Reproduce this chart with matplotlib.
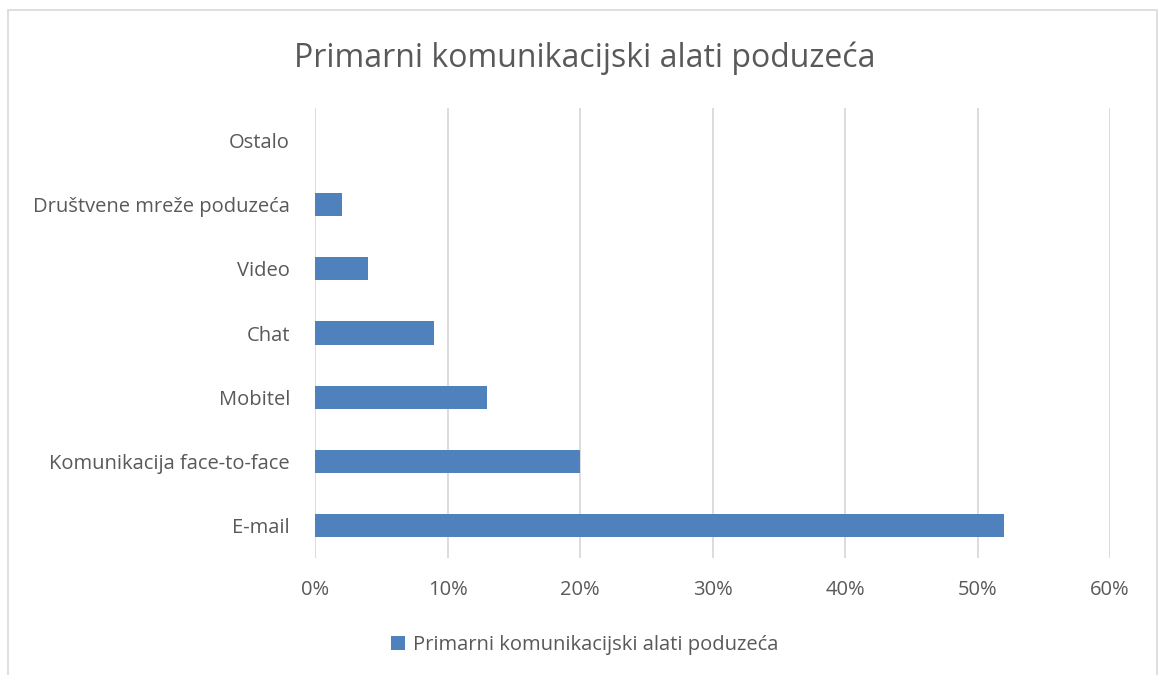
import matplotlib.pyplot as plt
from matplotlib.patches import Rectangle
from matplotlib.ticker import PercentFormatter

categories = ["E-mail", "Komunikacija face-to-face", "Mobitel", "Chat", "Video",
              "Društvene mreže poduzeća", "Ostalo"]
values = [52, 20, 13, 9, 4, 2, 0]
series_name = "Primarni komunikacijski alati poduzeća"

plt.rcParams['font.family'] = ['Open Sans', 'DejaVu Sans']
text_color = "#595959"

fig = plt.figure(figsize=(11.6, 6.75), dpi=100)
ax = fig.add_axes([0.2716, 0.1733, 0.6853, 0.6667])

ax.barh(range(len(categories)), values, height=0.36, color="#4F81BD", label=series_name, zorder=3)
ax.set_xlim(0, 60)
ax.set_ylim(-0.5, len(categories) - 0.5)
ax.set_xticks(range(0, 61, 10))
ax.xaxis.set_major_formatter(PercentFormatter(decimals=0))
ax.set_yticks(range(len(categories)))
ax.set_yticklabels(categories)
ax.tick_params(axis="both", length=0, labelsize=14.5, colors=text_color)
ax.tick_params(axis="x", pad=16)
ax.tick_params(axis="y", pad=18)
ax.grid(axis="x", color="#D9D9D9", linewidth=1.3, zorder=0)
for s in ax.spines.values():
    s.set_visible(False)

fig.text(0.504, 0.914, series_name, ha="center", va="center", fontsize=23, color=text_color)

fig.legend(loc="center", bbox_to_anchor=(0.504, 0.045), frameon=False, fontsize=14.5,
           labelcolor=text_color, handlelength=0.7, handleheight=0.7, handletextpad=0.4)

# chart border
fig.patches.append(Rectangle((8 / 1160, -0.01), 1149 / 1160, 1 - 10 / 675 + 0.01,
                             transform=fig.transFigure, fill=False,
                             edgecolor="#D9D9D9", linewidth=1.2))

fig.savefig("out.png", dpi=100)
